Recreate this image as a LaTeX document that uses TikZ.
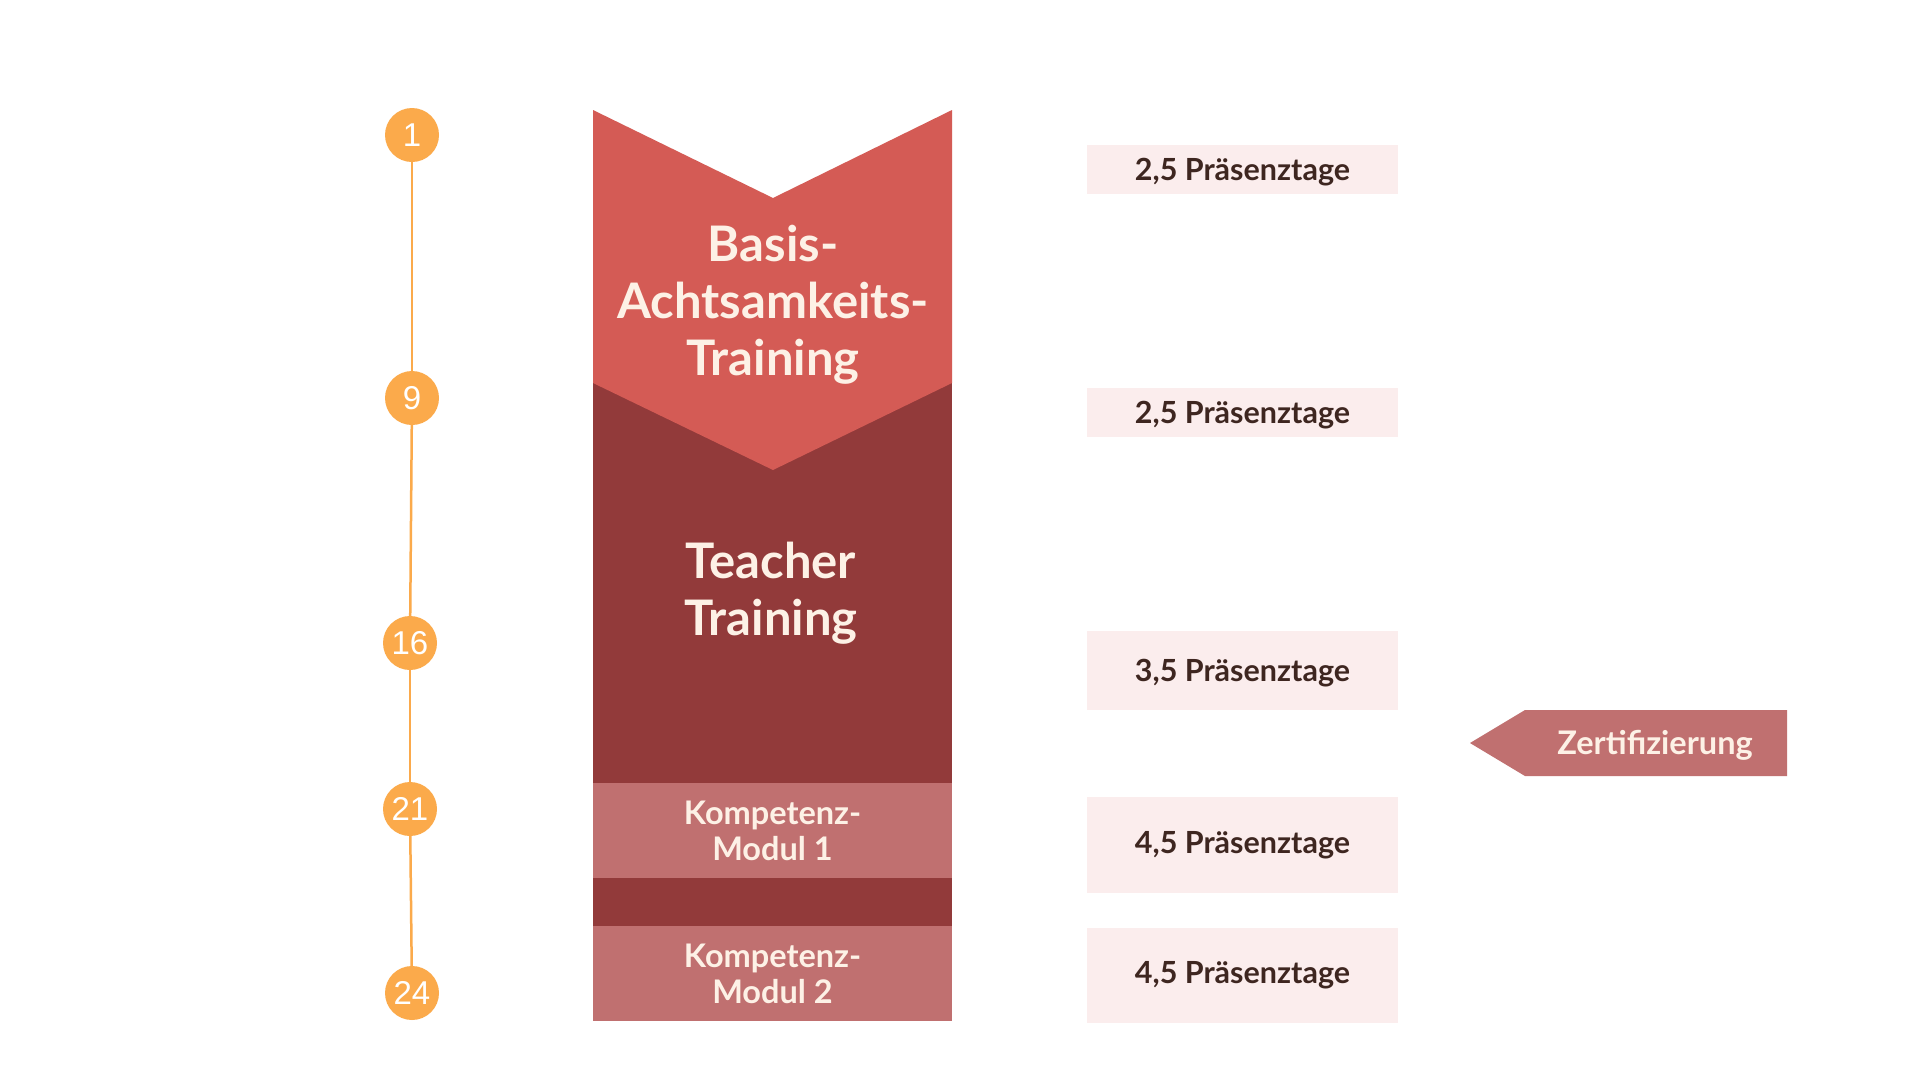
\documentclass[tikz,border=0pt]{standalone}
\usepackage{fontspec}
\setmainfont{Lato}
\newfontfamily\digitfont{Liberation Sans}
\usetikzlibrary{positioning}

\definecolor{basisred}{HTML}{D45B55}
\definecolor{teacherred}{HTML}{923A3A}
\definecolor{modulred}{HTML}{C07070}
\definecolor{dayfill}{HTML}{FBEDED}
\definecolor{dotorange}{HTML}{FBAA4B}
\definecolor{cream}{HTML}{FDF1E6}
\definecolor{daytext}{HTML}{3E2620}

\tikzset{
  stepdot/.style={circle, fill=dotorange, minimum size=54pt, inner sep=0pt,
    text=white, font=\digitfont\fontsize{33}{33}\selectfont},
  timeline/.style={draw=dotorange, line width=2.5pt},
  bigtitle/.style={align=center, text=cream, font=\bfseries\fontsize{49}{57}\selectfont},
  modulbox/.style={fill=modulred, minimum width=359pt, minimum height=95pt, inner sep=0pt,
    align=center, text=cream, font=\bfseries\fontsize{32.5}{36}\selectfont},
  daybox/.style={fill=dayfill, minimum width=311pt, inner sep=0pt,
    text=daytext, font=\bfseries\fontsize{30.5}{32}\selectfont}
}

\begin{document}
\begin{tikzpicture}[x=1pt, y=-1pt]
    \useasboundingbox[fill=white] (0,0) rectangle (1920,1080);

    % column
    \fill[teacherred] (593,383) rectangle (952,926);
    \fill[basisred] (593,110) -- (773,198) -- (952,110) -- (952,383) -- (773,470) -- (593,383) -- cycle;
    \node[bigtitle] (basis) at (773,305) {Basis-\\Achtsamkeits-\\Training};
    \node[bigtitle] (teacher) at (771,593) {Teacher\\Training};
    \node[modulbox] (modul1) at (772.5,830.5) {Kompetenz-\\Modul 1};
    \node[modulbox] (modul2) at (772.5,973.5) {Kompetenz-\\Modul 2};

    % timeline
    \node[stepdot] (c1) at (412,135) {1};
    \node[stepdot] (c9) at (412,398) {9};
    \node[stepdot] (c16) at (410,643) {16};
    \node[stepdot] (c21) at (410,809) {21};
    \node[stepdot] (c24) at (412,993) {24};
    \draw[timeline] (c1) -- (c9);
    \draw[timeline] (c9) -- (c16);
    \draw[timeline] (c16) -- (c21);
    \draw[timeline] (c21) -- (c24);

    % days
    \node[daybox, minimum height=49pt, text depth=0pt] (days1) at (1242.5,169.5) {2,5 Präsenztage};
    \node[daybox, minimum height=49pt, text depth=0pt] (days2) at (1242.5,412.5) {2,5 Präsenztage};
    \node[daybox, minimum height=79pt, text depth=0pt] (days3) at (1242.5,670.5) {3,5 Präsenztage};
    \node[daybox, minimum height=96pt] (days4) at (1242.5,845) {4,5 Präsenztage};
    \node[daybox, minimum height=95pt] (days5) at (1242.5,975.5) {4,5 Präsenztage};

    % certificate tag
    \fill[modulred] (1470,743) -- (1525,710) -- (1787,710) -- (1787,776) -- (1525,776) -- cycle;
    \node[text=cream, font=\bfseries\fontsize{32.5}{32}\selectfont] (cert) at (1655,745) {Zertifizierung};
\end{tikzpicture}
\end{document}
